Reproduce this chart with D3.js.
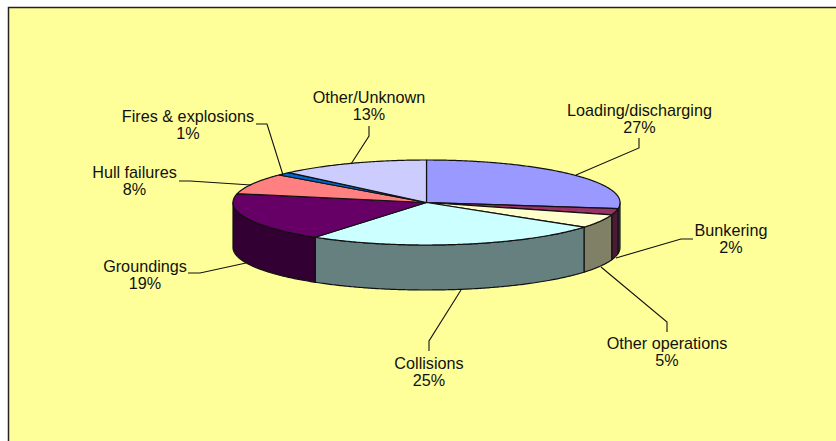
<!DOCTYPE html>
<html><head><meta charset="utf-8">
<script src="https://cdn.jsdelivr.net/npm/d3@7/dist/d3.min.js"></script>
<style>html,body{margin:0;padding:0;background:#fff}svg{display:block}</style>
</head><body><svg id="c" width="836" height="441"></svg>
<script>
const categories = ["Loading/discharging","Bunkering","Other operations","Collisions","Groundings","Hull failures","Fires & explosions","Other/Unknown"];
const shares = [27.3,2.4,5.2,24.9,18.6,7.9,1.2,12.6];
const topColors = ["#9999FF","#993366","#FFFFCC","#CCFFFF","#660066","#FF8080","#0066CC","#CCCCFF"];
const labelCentres = [[639.5,116],[731,236],[667,349],[429,369],[145,272],[134.5,178],[188,122],[369,103]];
const leaders = [
 [[639,138],[639,148],[576,175]],
 [[693,239],[681,239],[616,258]],
 [[667,332],[667,322],[601,267]],
 [[429,351],[429,341],[461,290]],
 [[188,273],[200,273],[246,263]],
 [[179,181],[190,181],[251,185]],
 [[256,124],[267,124],[283,175]],
 [[369,126],[369,136],[351,164]]
];
const cx=426.5, cy=202.5, rx=193.5, ry=42.5, depth=45;

const svg=d3.select("#c");
svg.append("rect").attr("x",8.5).attr("y",7.5).attr("width",840).attr("height",445)
  .attr("fill","#FFFF99").attr("stroke","#222").attr("stroke-width",1.5);

const data=categories.map((c,i)=>({c,v:shares[i],col:topColors[i],i}));
const arcs=d3.pie().sort(null).value(d=>d.v)(data);
const px=t=>cx+rx*Math.sin(t), py=t=>cy-ry*Math.cos(t);
const pathLine=d3.line();
const arcPts=(a,b,dy=0)=>{const n=Math.max(2,Math.ceil(Math.abs(b-a)/0.01));
  return d3.range(n+1).map(k=>{const t=a+(b-a)*k/n;return [px(t),py(t)+dy];});};
const halve=c=>{const r=d3.rgb(c);return d3.rgb(r.r/2,r.g/2,r.b/2).formatHex();};

// outer walls: only the front half of the rim faces the viewer
const wallLayer=svg.append("g");
arcs.forEach(d=>{
  const a=Math.max(d.startAngle,Math.PI/2), b=Math.min(d.endAngle,3*Math.PI/2);
  if(b<=a) return;
  const pts=arcPts(a,b).concat(arcPts(b,a,depth));
  wallLayer.append("path").attr("d",pathLine(pts)+"Z")
    .attr("fill",halve(d.data.col))
    .attr("stroke","#111").attr("stroke-width",1.2).attr("stroke-linejoin","round");
});
// top faces
const topLayer=svg.append("g");
arcs.forEach(d=>{
  const pts=[[cx,cy]].concat(arcPts(d.startAngle,d.endAngle));
  topLayer.append("path").attr("d",pathLine(pts)+"Z").attr("fill",d.data.col)
    .attr("stroke","#111").attr("stroke-width",1.2).attr("stroke-linejoin","round");
});
// leaders
svg.append("g").selectAll("path").data(leaders).join("path")
  .attr("d",d=>pathLine(d)).attr("fill","none").attr("stroke","#111").attr("stroke-width",1.1);
// labels
const fmt=d3.format(".0f");
const labelLayer=svg.append("g").attr("font-family","'Liberation Sans',Arial,sans-serif").attr("font-size",16.2)
  .attr("text-anchor","middle").attr("fill","#111");
data.forEach((d,i)=>{
  const [x,y]=labelCentres[i];
  labelLayer.append("text").attr("x",x).attr("y",y).text(d.c);
  labelLayer.append("text").attr("x",x).attr("y",y+16.5).text(fmt(d.v)+"%");
});
</script></body></html>
